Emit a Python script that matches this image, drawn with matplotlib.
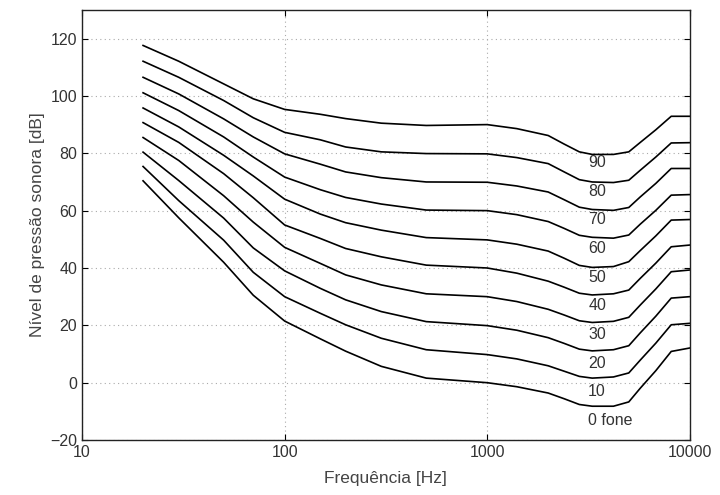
import numpy as np
import matplotlib.pyplot as plt

plt.rcParams['font.family'] = ['Liberation Sans', 'DejaVu Sans']

# Frequencies (Hz)
freqs = [20, 30, 50, 70, 100, 150, 200, 300, 500, 1000, 1400, 2000, 2400, 2850,
         3300, 4200, 5000, 5700, 6800, 8100, 10000]

# Loudness levels (fone) and the sound pressure level of each contour (dB)
phons = [90, 80, 70, 60, 50, 40, 30, 20, 10, 0]
spl_90 = [117.6, 112.1, 104.2, 99.0, 95.3, 93.6, 92.1, 90.5, 89.7, 90.0, 88.6, 86.2, 83.2, 80.5, 79.6, 79.6, 80.5, 83.8, 88.2, 92.9, 92.9]
spl_80 = [112.1, 106.5, 98.4, 92.4, 87.3, 84.7, 82.2, 80.5, 79.9, 79.8, 78.5, 76.4, 73.5, 70.8, 70.0, 69.8, 70.6, 74.1, 78.7, 83.6, 83.7]
spl_70 = [106.5, 100.7, 92.0, 85.7, 79.8, 76.2, 73.5, 71.5, 70.0, 69.9, 68.6, 66.5, 63.8, 61.2, 60.4, 60.1, 61.1, 64.8, 69.5, 74.7, 74.7]
spl_60 = [101.1, 94.9, 85.7, 78.7, 71.7, 67.3, 64.6, 62.3, 60.2, 60.0, 58.6, 56.2, 53.8, 51.4, 50.7, 50.4, 51.5, 55.3, 60.1, 65.4, 65.6]
spl_50 = [95.8, 89.2, 79.3, 72.1, 64.0, 58.8, 55.8, 53.2, 50.6, 49.8, 48.3, 45.9, 43.4, 40.9, 40.2, 40.5, 42.2, 46.1, 51.2, 56.7, 56.9]
spl_40 = [90.7, 83.8, 72.9, 64.5, 55.0, 50.3, 46.8, 43.9, 41.0, 40.0, 38.2, 35.4, 33.3, 31.2, 30.6, 31.0, 32.3, 36.4, 41.7, 47.4, 48.0]
spl_30 = [85.5, 77.5, 65.2, 56.0, 47.2, 41.6, 37.6, 34.1, 31.0, 30.0, 28.3, 25.6, 23.6, 21.6, 21.0, 21.4, 22.8, 27.1, 32.7, 38.7, 39.3]
spl_20 = [80.4, 70.5, 57.4, 47.0, 39.0, 32.9, 28.9, 24.8, 21.3, 19.9, 18.3, 15.7, 13.7, 11.7, 11.1, 11.5, 12.9, 17.4, 23.2, 29.5, 30.0]
spl_10 = [75.4, 63.5, 49.7, 38.5, 30.0, 24.2, 20.2, 15.5, 11.5, 9.8, 8.3, 5.9, 4.0, 2.2, 1.6, 2.0, 3.4, 7.9, 13.8, 20.2, 20.7]
spl_0 = [70.4, 57.5, 42.0, 30.5, 21.5, 15.3, 11.0, 5.7, 1.6, 0.0, -1.4, -3.6, -5.6, -7.6, -8.2, -8.2, -6.7, -1.9, 4.2, 10.9, 12.1]

curves = [spl_90, spl_80, spl_70, spl_60, spl_50, spl_40, spl_30, spl_20, spl_10, spl_0]
labels = ["90", "80", "70", "60", "50", "40", "30", "20", "10", "0 fone"]

fig = plt.figure(figsize=(7.2, 4.95), dpi=100)
ax = fig.add_axes([0.114, 0.111, 0.844, 0.869])

for spl in curves:
    ax.plot(freqs, spl, color='black', lw=1.2, solid_joinstyle='round')

# contour labels just under the dip of each curve
for p, lab in zip(phons, labels):
    ax.text(3150, p - 13.2, lab, ha='left', va='center', fontsize=11.5, color='#333333')

ax.set_xscale('log')
ax.set_xlim(10, 10000)
ax.set_ylim(-20, 130)
ax.set_xticks([10, 100, 1000, 10000])
ax.set_xticklabels(["10", "100", "1000", "10000"])
ax.set_yticks(np.arange(-20, 121, 20))
ax.minorticks_off()

ax.grid(True, color='#aaaaaa', linestyle=(0, (1, 3)), lw=0.8)
ax.tick_params(direction='in', top=True, right=True, length=4, labelsize=11.5,
               labelcolor='#333333', width=0.8)
for s in ax.spines.values():
    s.set_linewidth(1.0)
    s.set_color('#222222')

ax.set_xlabel("Frequência [Hz]", fontsize=12.5, color='#444444', labelpad=8)
ax.set_ylabel("Nível de pressão sonora [dB]", fontsize=12.5, color='#444444', labelpad=4)

fig.savefig("out.png", dpi=100)
